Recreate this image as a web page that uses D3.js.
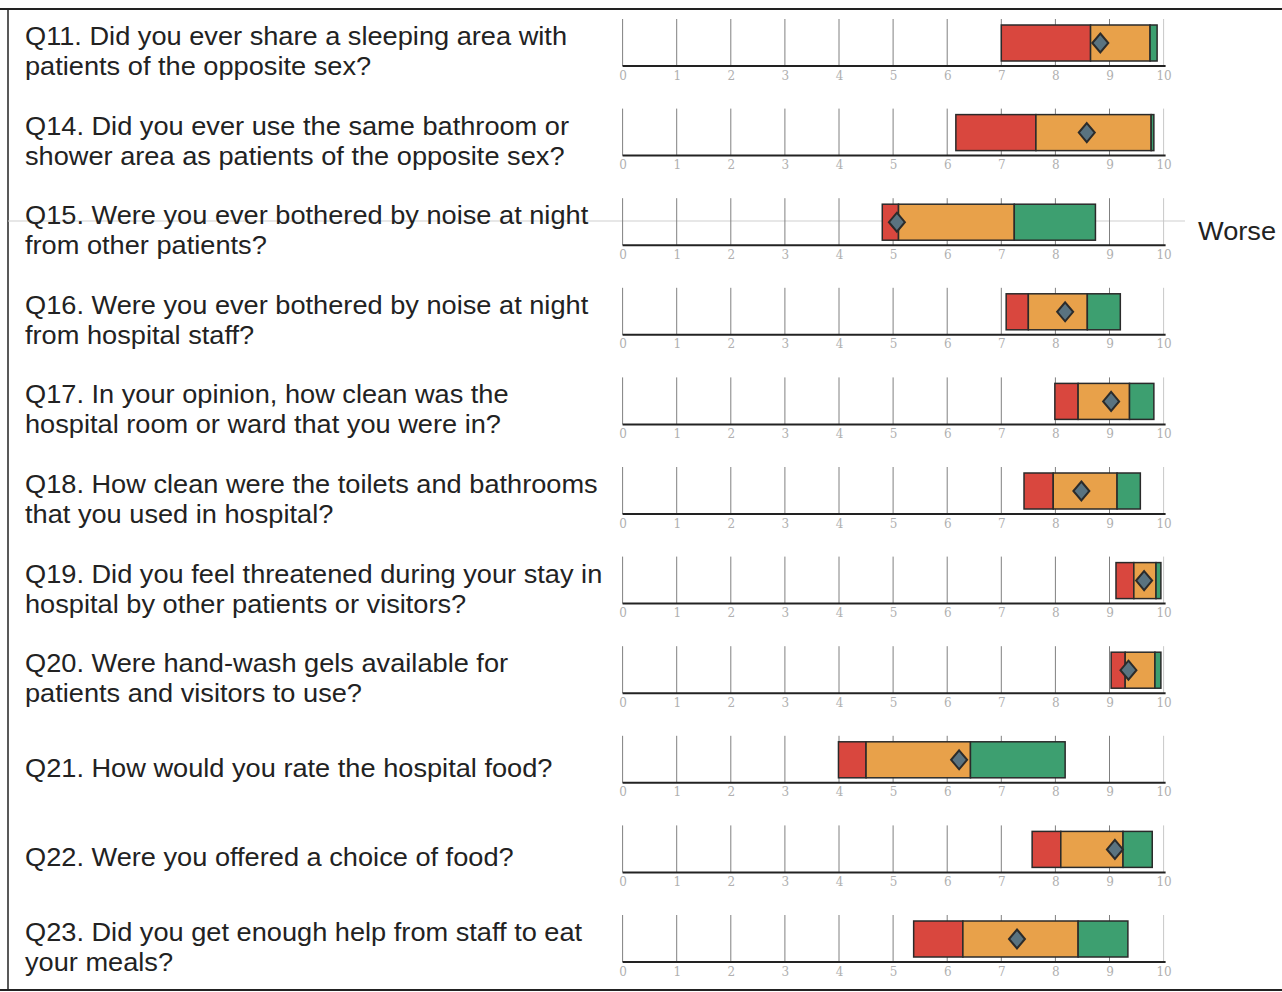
<!DOCTYPE html>
<html>
<head>
<meta charset="utf-8">
<script src="https://cdnjs.cloudflare.com/ajax/libs/d3/7.8.5/d3.min.js"></script>
<style>
  body { margin: 0; background: #fff; }
  svg { display: block; }
</style>
</head>
<body>
<svg id="chart" width="1282" height="992"></svg>
<script>
const svg = d3.select("#chart");
const width = +svg.attr("width");
const height = +svg.attr("height");

// questions, one entry per row (lines split where the picture wraps them)
const questions = [
  ["Q11. Did you ever share a sleeping area with", "patients of the opposite sex?"],
  ["Q14. Did you ever use the same bathroom or", "shower area as patients of the opposite sex?"],
  ["Q15. Were you ever bothered by noise at night", "from other patients?"],
  ["Q16. Were you ever bothered by noise at night", "from hospital staff?"],
  ["Q17. In your opinion, how clean was the", "hospital room or ward that you were in?"],
  ["Q18. How clean were the toilets and bathrooms", "that you used in hospital?"],
  ["Q19. Did you feel threatened during your stay in", "hospital by other patients or visitors?"],
  ["Q20. Were hand-wash gels available for", "patients and visitors to use?"],
  ["Q21. How would you rate the hospital food?"],
  ["Q22. Were you offered a choice of food?"],
  ["Q23. Did you get enough help from staff to eat", "your meals?"]
];

// band edges (0-10 scale)
const redStart    = [7.00, 6.16, 4.80, 7.09, 7.99, 7.42, 9.12, 9.03, 3.99, 7.57, 5.38];
const orangeStart = [8.65, 7.64, 5.10, 7.50, 8.42, 7.96, 9.45, 9.29, 4.50, 8.10, 6.29];
const greenStart  = [9.75, 9.77, 7.24, 8.59, 9.37, 9.14, 9.86, 9.84, 6.43, 9.25, 8.42];
const bandEnd     = [9.88, 9.82, 8.74, 9.20, 9.82, 9.57, 9.95, 9.95, 8.18, 9.79, 9.34];
const trustScore  = [8.83, 8.58, 5.07, 8.18, 9.03, 8.48, 9.64, 9.35, 6.22, 9.10, 7.29];

const tickValues = d3.range(0, 11);

const colors = { red: "#d9473e", orange: "#e8a14a", green: "#3d9f70", diamond: "#5a7380" };
const font = "Liberation Sans, Arial, sans-serif";
const stretch = 1.088; // the scanned text is a little wider than the font

const x = d3.scaleLinear().domain([0, 10]).range([622.6, 1163.6]);
const rowY = d3.scaleLinear().domain([0, questions.length - 1]).range([66, 962]);

// frame
svg.append("line").attr("x1", 0).attr("x2", width).attr("y1", 9).attr("y2", 9)
  .attr("stroke", "#222").attr("stroke-width", 2);
svg.append("line").attr("x1", 8).attr("x2", 8).attr("y1", 9).attr("y2", 990)
  .attr("stroke", "#222").attr("stroke-width", 1.5);
svg.append("line").attr("x1", 0).attr("x2", width).attr("y1", 990).attr("y2", 990)
  .attr("stroke", "#222").attr("stroke-width", 2);

// faint scan line through Q15
svg.append("line").attr("x1", 8).attr("x2", 1185).attr("y1", 221).attr("y2", 221)
  .attr("stroke", "#cfcfcf").attr("stroke-width", 1);

const rows = svg.selectAll(".row").data(questions).enter().append("g")
  .attr("class", "row")
  .attr("transform", (d, i) => `translate(0,${rowY(i)})`);

// question text
rows.each(function(lines) {
  const t = d3.select(this).append("g")
    .attr("transform", `translate(25,0) scale(${stretch},1)`)
    .append("text")
    .attr("font-family", font)
    .attr("font-size", 25)
    .attr("fill", "#222");
  if (lines.length === 1) {
    t.append("tspan").attr("x", 0).attr("y", -6).text(lines[0]);
  } else {
    t.append("tspan").attr("x", 0).attr("y", -21).text(lines[0]);
    t.append("tspan").attr("x", 0).attr("y", 9).text(lines[1]);
  }
});

// gridlines
rows.selectAll(".grid").data(tickValues).enter().append("line")
  .attr("x1", d => x(d)).attr("x2", d => x(d))
  .attr("y1", -47).attr("y2", 0)
  .attr("stroke", d => d === 10 ? "#c8c8c8" : "#808080")
  .attr("stroke-width", 1);

// axis
rows.append("g").attr("class", "axis")
  .call(d3.axisBottom(x).tickValues(tickValues).tickSize(0).tickPadding(5).tickFormat(d3.format("d")))
  .call(g => g.select(".domain").attr("stroke", "#222").attr("stroke-width", 2)
    .attr("d", `M${x(0)},0H${x(10) + 2}`))
  .call(g => g.selectAll("text").attr("fill", "#b0b0b0").attr("font-size", 12)
    .attr("font-family", "DejaVu Serif, serif"));

// bands
const bands = i => [
  { a: redStart[i], b: orangeStart[i], c: colors.red },
  { a: orangeStart[i], b: greenStart[i], c: colors.orange },
  { a: greenStart[i], b: bandEnd[i], c: colors.green }
];
rows.each(function(d, i) {
  const g = d3.select(this);
  g.selectAll(".band").data(bands(i)).enter().append("rect")
    .attr("x", b => x(b.a)).attr("width", b => x(b.b) - x(b.a))
    .attr("y", -41).attr("height", 36)
    .attr("fill", b => b.c).attr("stroke", "#2a2a2a").attr("stroke-width", 1.5);
  const cx = x(trustScore[i]), cy = -23;
  g.append("path")
    .attr("d", `M${cx},${cy - 9.5}L${cx + 8},${cy}L${cx},${cy + 9.5}L${cx - 8},${cy}Z`)
    .attr("fill", colors.diamond).attr("stroke", "#2b2b2b").attr("stroke-width", 2);
});

// legend fragment
svg.append("g").attr("transform", `translate(1198,240) scale(${stretch},1)`)
  .append("text")
  .attr("font-family", font)
  .attr("font-size", 25).attr("fill", "#222").text("Worse");
</script>
</body>
</html>
